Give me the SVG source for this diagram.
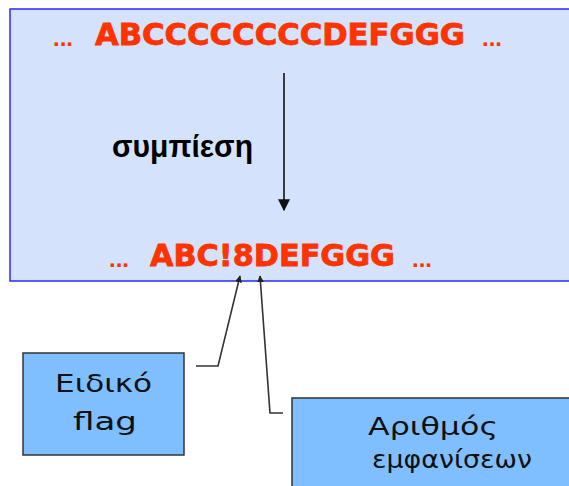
<svg xmlns="http://www.w3.org/2000/svg" width="569" height="486" viewBox="0 0 569 486">
  <style>
    .seq { font-family: "DejaVu Sans", "Liberation Sans", sans-serif; font-weight: bold; fill: #ff3300; stroke: #ff3300; stroke-width: 0.8; }
    .dots { font-family: "Liberation Sans", sans-serif; font-weight: bold; fill: #ff3300; font-size: 24px; }
    .label { font-family: "Liberation Sans", sans-serif; font-weight: bold; fill: #000; font-size: 31px; }
    .box { fill: #80bfff; stroke: #333; stroke-width: 1.5; }
    .boxtext { font-family: "DejaVu Sans", "Liberation Sans", sans-serif; font-size: 25px; fill: #111; }
    .conn { fill: none; stroke: #333; stroke-width: 1.6; }
  </style>
  <defs>
    <marker id="head" viewBox="0 0 10 10" refX="9" refY="5" markerWidth="7" markerHeight="7" markerUnits="userSpaceOnUse" orient="auto">
      <path d="M0,0 L10,5 L0,10 z" fill="#222"/>
    </marker>
    <marker id="bighead" viewBox="0 0 10 10" refX="9" refY="5" markerWidth="12" markerHeight="12" markerUnits="userSpaceOnUse" orient="auto">
      <path d="M0,0 L10,5 L0,10 z" fill="#111"/>
    </marker>
  </defs>

  <!-- compression panel -->
  <g id="panel">
    <rect x="10" y="9" width="570" height="272" fill="#d4e3fb" stroke="#2a2aff" stroke-width="1.5"/>
    <text class="dots" x="53" y="46">...</text>
    <text class="seq" x="95" y="45" font-size="30" textLength="370" lengthAdjust="spacingAndGlyphs">ABCCCCCCCCDEFGGG</text>
    <text class="dots" x="482" y="46">...</text>

    <text class="label" x="112" y="157" textLength="141" lengthAdjust="spacingAndGlyphs">συμπίεση</text>

    <text class="dots" x="109" y="267">...</text>
    <text class="seq" x="150" y="266" font-size="30" textLength="245" lengthAdjust="spacingAndGlyphs">ABC!8DEFGGG</text>
    <text class="dots" x="412" y="267">...</text>
  </g>

  <g id="connectors">
    <line x1="284" y1="73" x2="284" y2="210" stroke="#111" stroke-width="1.6" marker-end="url(#bighead)"/>
    <polyline class="conn" points="196,366 218,366 240,276" marker-end="url(#head)"/>
    <polyline class="conn" points="283,413 270,413 260,276" marker-end="url(#head)"/>
  </g>

  <g id="flag">
    <rect class="box" x="23" y="353" width="161" height="102"/>
    <text class="boxtext" x="55" y="392" textLength="97" lengthAdjust="spacingAndGlyphs">Ειδικό</text>
    <text class="boxtext" x="73" y="430" textLength="64" lengthAdjust="spacingAndGlyphs">flag</text>
  </g>

  <g id="count">
    <rect class="box" x="292" y="398" width="290" height="100"/>
    <text class="boxtext" x="368" y="435" textLength="130" lengthAdjust="spacingAndGlyphs">Αριθμός</text>
    <text class="boxtext" x="372" y="468" textLength="160" lengthAdjust="spacingAndGlyphs">εμφανίσεων</text>
  </g>
</svg>
